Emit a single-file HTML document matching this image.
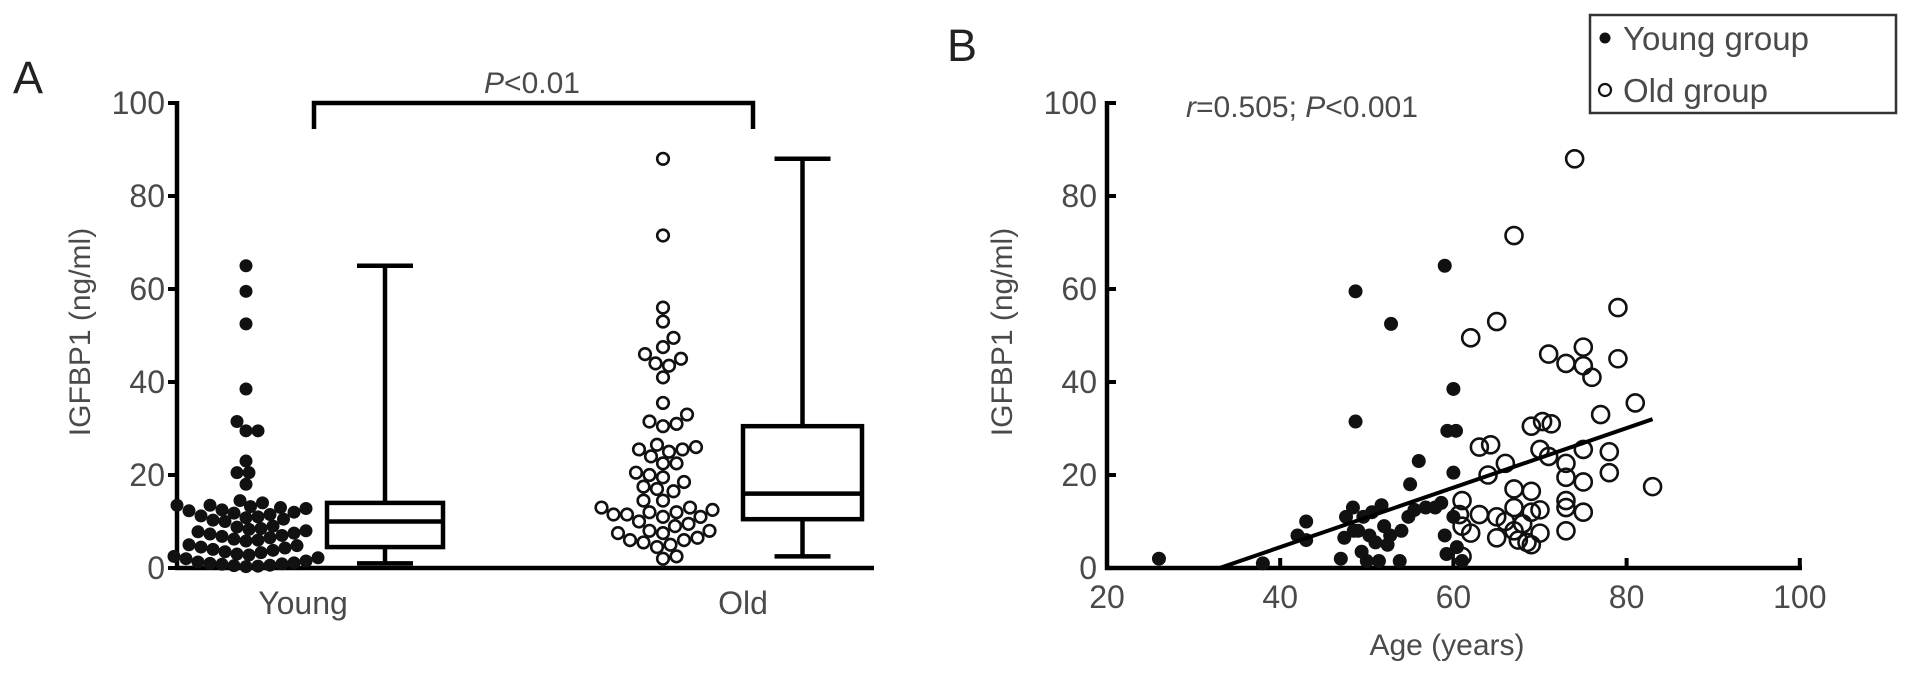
<!DOCTYPE html>
<html><head><meta charset="utf-8"><style>
html,body{margin:0;padding:0;background:#fff;}
svg{display:block;font-family:"Liberation Sans",sans-serif;}
</style></head><body>
<svg id="fig" width="1913" height="676" viewBox="0 0 1913 676">
<g id="pa"></g>
<g id="pb"></g>
</svg>
<script>
// ---- Panel A data ----
const groupsA = ["Young", "Old"];
const yTicksA = [0, 20, 40, 60, 80, 100];
const youngSwarm = [65,59.5,52.5,38.5,31.5,29.5,29.5,23,20.5,20.5,18,14.5,14,13.5,
 13.5,13.2,13,12.8,12.5,12.3,12,11.8,11.5,11.2,11,10.8,10.5,10.3,10,
 9,8.8,8.5,8.3,8,7.8,7.5,7.3,7,6.8,6.5,6.2,6,5.8,
 5,4.8,4.5,4.3,4,3.8,3.5,3.3,3,2.8,2.5,2.2,2,
 1.5,1.3,1.1,1,0.9,0.8,0.6,0.5,0.4,0.3];
const oldSwarm = [88,71.5,56,53,49.5,47.5,46,45,44,43.5,41,35.5,33,31.5,31,30.5,
 26.5,26,25.5,25.5,25,24,22.5,22.5,20.5,20,19.5,18.5,17.5,17,16.5,14.5,14.5,
 13,13,12.5,12,12,11.5,11.5,11,11,10,9.5,9,8,8,7.5,7.5,6.5,6,6,5.5,5,4.5,2.5,2];
const boxYoung = [1, 4.5, 10, 14, 65];   // min, q1, median, q3, max
const boxOld = [2.5, 10.5, 16, 30.5, 88];
// ---- Panel B data ----
const xTicksB = [20, 40, 60, 80, 100];
const yTicksB = [0, 20, 40, 60, 80, 100];
const youngAge = [26,38,43,42,43,48.7,48.7,52.8,59,60,59.3,60.3,56,60,55,
 47,47.4,47.6,48.4,49,49.4,50,50.6,51,51.4,51.7,52,52.4,52.7,53.8,54,54.8,55.5,56.8,57.9,58.6,59,59.2,60,60.4,61,48.5,49.6,50.3];
const youngVal = [2,1,10,7,6,59.5,31.5,52.5,65,38.5,29.5,29.5,23,20.5,18,
 2,6.5,11,13,8,3.5,1.5,12,5.5,1.5,13.5,9,5,7,1.5,8,11,12.5,13,13,14,7,3,11,4.5,1.5,8,11,7];
const oldAge = [74,67,79,65,62,71,75,73,75,76,79,81,77,69,70.3,71.3,63,64.3,70,71,66,73,75,78,78,64,73,75,83,67,69,61,73,73,67,69,70,63,65,66,61,62,75,65,67.5,69,70,73,61,68,67,60.7,68.5];
const oldVal = [88,71.5,56,53,49.5,46,47.5,44,43.5,41,45,35.5,33,30.5,31.5,31,26,26.5,25.5,24,22.5,22.5,25.5,25,20.5,20,19.5,18.5,17.5,17,16.5,14.5,14.5,13,13,12,12.5,11.5,11,10,9,7.5,12,6.5,6,5,7.5,8,2.5,9.5,8,11.5,5.5];
const regLine = [33, 0, 83, 32]; // x1,y1,x2,y2 in data units

const NS = "http://www.w3.org/2000/svg";
function mk(parent, tag, attrs, text){
  const e = document.createElementNS(NS, tag);
  for (const k in attrs) e.setAttribute(k, attrs[k]);
  if (text !== undefined) e.textContent = text;
  parent.appendChild(e);
  return e;
}
const TXT = "#4a4a4a";

// ===== Panel A =====
const pa = document.getElementById("pa");
const yA = v => 568 - v * 4.65;
const axA = 177;
let t = mk(pa, "text", {x:13, y:93, "font-size":45, fill:"#222"}, "A");


let l = mk(pa, "line", {x1:axA, y1:101, x2:axA, y2:570, stroke:"#000", "stroke-width":4.5});


l = mk(pa, "line", {x1:175, y1:568, x2:874, y2:568, stroke:"#000", "stroke-width":4.5});


yTicksA.forEach(v => {
  const tk = mk(pa, "line", {x1:axA-9, y1:yA(v), x2:axA, y2:yA(v), stroke:"#000", "stroke-width":4});
  
  
  const tl = mk(pa, "text", {x:165, y:yA(v)+11, "font-size":32, fill:TXT, "text-anchor":"end"}, String(v));
  
  
});
t = mk(pa, "text", {x:0, y:0, "font-size":30, fill:TXT, "text-anchor":"middle", transform:"translate(90,332) rotate(-90)"}, "IGFBP1 (ng/ml)");


const catX = [303, 743];
groupsA.forEach((g, i) => {
  const c = mk(pa, "text", {x:catX[i], y:614, "font-size":32, fill:TXT, "text-anchor":"middle"}, g);
  
  
});
// significance bracket
l = mk(pa, "path", {d:"M314,129 V103 H753 V129", fill:"none", stroke:"#000", "stroke-width":4.5});


t = mk(pa, "text", {x:532, y:93, "font-size":30, fill:TXT, "text-anchor":"middle"});


mk(t, "tspan", {"font-style":"italic"}, "P");
mk(t, "tspan", {}, "<0.01");

function swarm(vals, cx, r, filled, name){
  const placed = [];
  const sorted = vals.slice().sort((a,b)=>a-b);
  const g = mk(pa, "g", {});
  
  
  sorted.forEach(v => {
    const y = yA(v);
    let x = cx;
    for (let k = 0; k < 200; k++) {
      const off = (k % 2 ? 1 : -1) * Math.ceil(k/2) * 1.5;
      x = cx + off;
      if (placed.every(p => (p[0]-x)**2 + (p[1]-y)**2 >= (2*r-1)**2)) break;
    }
    placed.push([x, y]);
    const c = mk(g, "circle", filled ? {cx:x, cy:y, r:r, fill:"#111"} :
      {cx:x, cy:y, r:r-1.2, fill:"#fff", stroke:"#111", "stroke-width":2.6});
    
    
  });
}
swarm(youngSwarm, 246, 6.5, true, "young-swarm");
swarm(oldSwarm, 663, 7, false, "old-swarm");

function box(stats, x0, x1, name){
  const g = mk(pa, "g", {fill:"none", stroke:"#000", "stroke-width":4.5});
  
  
  const cx = (x0 + x1) / 2, cw = 28;
  const parts = [
    ["line", {x1:cx, y1:yA(stats[4]), x2:cx, y2:yA(stats[3])}, "whisker-upper"],
    ["line", {x1:cx, y1:yA(stats[1]), x2:cx, y2:yA(stats[0])}, "whisker-lower"],
    ["line", {x1:cx-cw, y1:yA(stats[4]), x2:cx+cw, y2:yA(stats[4])}, "whisker-cap-max"],
    ["line", {x1:cx-cw, y1:yA(stats[0]), x2:cx+cw, y2:yA(stats[0])}, "whisker-cap-min"],
    ["rect", {x:x0, y:yA(stats[3]), width:x1-x0, height:yA(stats[1])-yA(stats[3])}, "box-iqr"],
    ["line", {x1:x0, y1:yA(stats[2]), x2:x1, y2:yA(stats[2])}, "box-median"]
  ];
  parts.forEach(p => {
    const e = mk(g, p[0], p[1]);
    
    
  });
}
box(boxYoung, 327, 443, "box-young");
box(boxOld, 743, 862, "box-old");

// ===== Panel B =====
const pb = document.getElementById("pb");
const xB = v => 1107 + (v - 20) * 8.66;
const yB = v => 568 - v * 4.65;
t = mk(pb, "text", {x:947, y:61, "font-size":45, fill:"#222"}, "B");


l = mk(pb, "line", {x1:1107, y1:101, x2:1107, y2:570, stroke:"#000", "stroke-width":4.5});


l = mk(pb, "line", {x1:1105, y1:568, x2:1802, y2:568, stroke:"#000", "stroke-width":4.5});


yTicksB.forEach(v => {
  const tk = mk(pb, "line", {x1:1107, y1:yB(v), x2:1116, y2:yB(v), stroke:"#000", "stroke-width":4});
  
  
  const tl = mk(pb, "text", {x:1097, y:yB(v)+11, "font-size":32, fill:TXT, "text-anchor":"end"}, String(v));
  
  
});
xTicksB.forEach(v => {
  const tk = mk(pb, "line", {x1:xB(v), y1:558, x2:xB(v), y2:570, stroke:"#000", "stroke-width":4});
  
  
  const tl = mk(pb, "text", {x:xB(v), y:608, "font-size":32, fill:TXT, "text-anchor":"middle"}, String(v));
  
  
});
t = mk(pb, "text", {x:1447, y:655, "font-size":30, fill:TXT, "text-anchor":"middle"}, "Age (years)");


t = mk(pb, "text", {x:0, y:0, "font-size":30, fill:TXT, "text-anchor":"middle", transform:"translate(1012,332) rotate(-90)"}, "IGFBP1 (ng/ml)");


t = mk(pb, "text", {x:1186, y:117, "font-size":30, fill:TXT});


mk(t, "tspan", {"font-style":"italic"}, "r");
mk(t, "tspan", {}, "=0.505; ");
mk(t, "tspan", {"font-style":"italic"}, "P");
mk(t, "tspan", {}, "<0.001");

const gy = mk(pb, "g", {});


youngAge.forEach((a, i) => {
  const c = mk(gy, "circle", {cx:xB(a), cy:yB(youngVal[i]), r:7, fill:"#111"});
  
  
});
const go = mk(pb, "g", {});


oldAge.forEach((a, i) => {
  const c = mk(go, "circle", {cx:xB(a), cy:yB(oldVal[i]), r:8.5, fill:"none", stroke:"#111", "stroke-width":2.6});
  
  
});
l = mk(pb, "line", {x1:xB(regLine[0]), y1:yB(regLine[1]), x2:xB(regLine[2]), y2:yB(regLine[3]), stroke:"#000", "stroke-width":4});



// legend
const lg = mk(pb, "g", {});


const lb = mk(lg, "rect", {x:1590, y:15, width:306, height:98, fill:"#fff", stroke:"#333", "stroke-width":2.5});


let m = mk(lg, "circle", {cx:1605, cy:38, r:5.5, fill:"#111"});


t = mk(lg, "text", {x:1623, y:50, "font-size":33, fill:TXT}, "Young group");


m = mk(lg, "circle", {cx:1605, cy:90, r:6, fill:"none", stroke:"#111", "stroke-width":2.2});


t = mk(lg, "text", {x:1623, y:102, "font-size":33, fill:TXT}, "Old group");


</script>
</body></html>
